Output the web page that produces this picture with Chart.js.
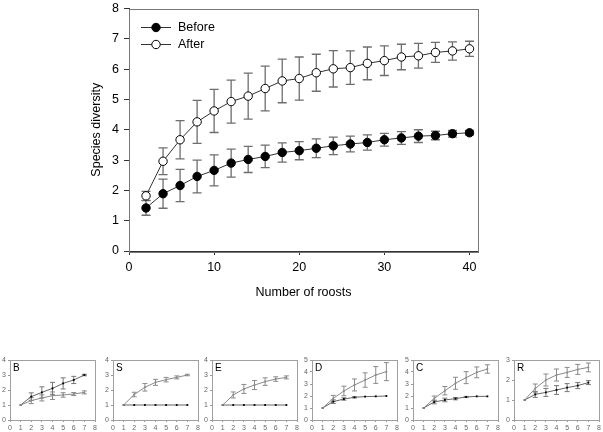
<!DOCTYPE html>
<html>
<head>
<meta charset="utf-8">
<script src="https://cdn.jsdelivr.net/npm/chart.js@4.4.0/dist/chart.umd.min.js"></script>
<style>
  body { margin: 0; background: #fff; width: 603px; height: 432px; overflow: hidden; position: relative; }
  canvas { position: absolute; }
</style>
</head>
<body>
<canvas id="main" width="603" height="314" style="left:0;top:-4px"></canvas>
<script>
// main chart data
const roosts = [2, 4, 6, 8, 10, 12, 14, 16, 18, 20, 22, 24, 26, 28, 30, 32, 34, 36, 38, 40];
const before = [1.42, 1.89, 2.16, 2.46, 2.66, 2.90, 3.02, 3.12, 3.25, 3.31, 3.39, 3.47, 3.53, 3.58, 3.67, 3.73, 3.79, 3.81, 3.87, 3.90];
const beforeErr = [0.24, 0.48, 0.53, 0.54, 0.51, 0.46, 0.43, 0.37, 0.32, 0.30, 0.31, 0.29, 0.26, 0.25, 0.21, 0.21, 0.21, 0.14, 0.11, 0.08];
const after = [1.82, 2.96, 3.67, 4.26, 4.62, 4.93, 5.11, 5.36, 5.61, 5.69, 5.88, 6.01, 6.05, 6.19, 6.28, 6.40, 6.44, 6.55, 6.60, 6.67];
const afterErr = [0.15, 0.44, 0.63, 0.71, 0.71, 0.71, 0.76, 0.74, 0.72, 0.71, 0.61, 0.60, 0.55, 0.54, 0.49, 0.42, 0.41, 0.33, 0.30, 0.25];
const xTicks = [0, 10, 20, 30, 40];

// small panels
const panelNames = ["B", "S", "E", "D", "C", "R"];
const panelYMax = [4, 4, 4, 5, 5, 3];
const panelX = [1, 2, 3, 4, 5, 6, 7];
const panelXTicks = [0, 1, 2, 3, 4, 5, 6, 7, 8];
const bDark = [1, 1.56, 1.84, 2.11, 2.44, 2.67, 3.0];
const bDarkErr = [0, 0.25, 0.37, 0.4, 0.37, 0.24, 0.05];
const bGray = [1, 1.29, 1.47, 1.62, 1.67, 1.73, 1.84];
const bGrayErr = [0, 0.2, 0.2, 0.25, 0.15, 0.1, 0.1];
const sDark = [1, 1, 1, 1, 1, 1, 1];
const sDarkErr = [0, 0, 0, 0, 0, 0, 0];
const sGray = [1, 1.70, 2.18, 2.51, 2.69, 2.84, 3.0];
const sGrayErr = [0, 0.15, 0.25, 0.2, 0.15, 0.1, 0.05];
const eDark = [1, 1, 1, 1, 1, 1, 1];
const eDarkErr = [0, 0, 0, 0, 0, 0, 0];
const eGray = [1, 1.67, 2.07, 2.33, 2.56, 2.73, 2.84];
const eGrayErr = [0, 0.2, 0.3, 0.3, 0.25, 0.15, 0.1];
const dDark = [1, 1.53, 1.75, 1.89, 1.95, 1.97, 2.0];
const dDarkErr = [0, 0.15, 0.1, 0.05, 0, 0, 0];
const dGray = [1, 1.8, 2.42, 2.92, 3.33, 3.75, 4.03];
const dGrayErr = [0, 0.25, 0.4, 0.5, 0.6, 0.7, 0.75];
const cDark = [1, 1.5, 1.67, 1.78, 1.92, 1.97, 1.97];
const cDarkErr = [0, 0.15, 0.15, 0.1, 0.05, 0, 0];
const cGray = [1, 1.8, 2.44, 3.06, 3.53, 3.97, 4.25];
const cGrayErr = [0, 0.2, 0.35, 0.5, 0.5, 0.45, 0.35];
const rDark = [1, 1.28, 1.38, 1.5, 1.62, 1.72, 1.87];
const rDarkErr = [0, 0.15, 0.2, 0.22, 0.2, 0.15, 0.1];
const rGray = [1, 1.58, 2.0, 2.25, 2.38, 2.53, 2.63];
const rGrayErr = [0, 0.22, 0.3, 0.3, 0.25, 0.25, 0.22];

const panelDark = [bDark, sDark, eDark, dDark, cDark, rDark];
const panelDarkErr = [bDarkErr, sDarkErr, eDarkErr, dDarkErr, cDarkErr, rDarkErr];
const panelGray = [bGray, sGray, eGray, dGray, cGray, rGray];
const panelGrayErr = [bGrayErr, sGrayErr, eGrayErr, dGrayErr, cGrayErr, rGrayErr];
const panelLefts = [10, 113, 212, 312, 413, 514];

const FONT = "'Liberation Sans', Arial, sans-serif";

const toPoints = (xs, ys) => xs.map((x, i) => ({ x, y: ys[i] }));

// draws the error bars before lines and markers, so markers sit on top
const errorBars = {
    id: "errorBars",
    beforeDatasetsDraw(chart) {
        const ctx = chart.ctx;
        const xs = chart.scales.x, ys = chart.scales.y;
        chart.data.datasets.forEach((ds) => {
            if (!ds.errors) return;
            ctx.save();
            ctx.strokeStyle = ds.errorColor;
            ctx.lineWidth = ds.errorWidth;
            ds.data.forEach((p, j) => {
                const e = ds.errors[j];
                if (!e) return;
                const px = xs.getPixelForValue(p.x);
                const y1 = ys.getPixelForValue(p.y - e);
                const y2 = ys.getPixelForValue(p.y + e);
                const c = ds.capHalf;
                ctx.beginPath();
                ctx.moveTo(px, y1); ctx.lineTo(px, y2);
                ctx.moveTo(px - c, y1); ctx.lineTo(px + c, y1);
                ctx.moveTo(px - c, y2); ctx.lineTo(px + c, y2);
                ctx.stroke();
            });
            ctx.restore();
        });
    }
};

const frame = {
    id: "frame",
    beforeDatasetsDraw(chart, args, opts) {
        const { left, top, right, bottom } = chart.chartArea;
        const ctx = chart.ctx;
        ctx.save();
        ctx.strokeStyle = opts.color;
        ctx.lineWidth = 1;
        ctx.strokeRect(Math.round(left) + 0.5, Math.round(top) + 0.5, Math.round(right - left), Math.round(bottom - top));
        ctx.restore();
        if (opts.label) {
            ctx.save();
            ctx.fillStyle = "#000";
            ctx.font = "10px " + FONT;
            ctx.textBaseline = "top";
            ctx.fillText(opts.label, left + 3, top + 3);
            ctx.restore();
        }
    }
};

const mainLegend = {
    id: "mainLegend",
    afterDraw(chart) {
        const ctx = chart.ctx;
        const { left, top } = chart.chartArea;
        const rowOffsets = [18, 35];
        chart.data.datasets.forEach((ds, i) => {
            const y = Math.round(top + rowOffsets[i]);
            const x0 = left + 12;
            ctx.save();
            ctx.strokeStyle = ds.borderColor;
            ctx.lineWidth = 1;
            ctx.beginPath();
            ctx.moveTo(x0, y + 0.5); ctx.lineTo(x0 + 30, y + 0.5);
            ctx.stroke();
            ctx.beginPath();
            ctx.arc(x0 + 15, y + 0.5, ds.pointRadius, 0, Math.PI * 2);
            ctx.fillStyle = ds.pointBackgroundColor;
            ctx.fill();
            ctx.strokeStyle = ds.pointBorderColor;
            ctx.stroke();
            ctx.fillStyle = "#000";
            ctx.font = "12.5px " + FONT;
            ctx.textBaseline = "middle";
            ctx.fillText(ds.label, x0 + 37, y + 1);
            ctx.restore();
        });
    }
};

const tickFont = { family: FONT, size: 12.5 };

new Chart(document.getElementById("main"), {
    type: "line",
    data: {
        datasets: [
            {
                label: "Before",
                data: toPoints(roosts, before),
                errors: beforeErr,
                errorColor: "#6e6e6e", errorWidth: 1.3, capHalf: 4.5,
                borderColor: "#333", borderWidth: 1,
                pointRadius: 4.2, pointBackgroundColor: "#000", pointBorderColor: "#000", pointBorderWidth: 1
            },
            {
                label: "After",
                data: toPoints(roosts, after),
                errors: afterErr,
                errorColor: "#6e6e6e", errorWidth: 1.3, capHalf: 4.5,
                borderColor: "#333", borderWidth: 1,
                pointRadius: 4.2, pointBackgroundColor: "#fff", pointBorderColor: "#000", pointBorderWidth: 1
            }
        ]
    },
    options: {
        responsive: false,
        animation: false,
        devicePixelRatio: 1,
        layout: { padding: { left: 80, right: 125, top: 7, bottom: 0 } },
        plugins: { legend: { display: false }, tooltip: { enabled: false }, frame: { color: "#777" } },
        scales: {
            x: {
                type: "linear", min: 0, max: 41,
                afterBuildTicks: (s) => { s.ticks = xTicks.map((v) => ({ value: v })); },
                afterFit: (s) => { s.height = 59; },
                grid: { drawOnChartArea: false, tickLength: 4, color: "#333" },
                border: { color: "#333" },
                ticks: { font: tickFont, color: "#000", padding: 5, maxRotation: 0 },
                title: { display: true, text: "Number of roosts", font: tickFont, color: "#000", padding: { bottom: 10 } }
            },
            y: {
                min: 0, max: 8,
                afterFit: (s) => { s.width = 49; },
                grid: { drawOnChartArea: false, tickLength: 5, color: "#333" },
                border: { color: "#333" },
                ticks: { stepSize: 1, font: tickFont, color: "#000", padding: 5 },
                title: { display: true, text: "Species diversity", font: tickFont, color: "#000", padding: { top: 9 } }
            }
        }
    },
    plugins: [frame, errorBars, mainLegend]
});

// the six small panels
const smallFont = { family: FONT, size: 7 };
panelNames.forEach((name, i) => {
    const cv = document.createElement("canvas");
    cv.width = 100;
    cv.height = 80;
    cv.style.left = (panelLefts[i] - 10) + "px";
    cv.style.top = "352px";
    document.body.appendChild(cv);

    new Chart(cv, {
        type: "line",
        data: {
            datasets: [
                {
                    data: toPoints(panelX, panelGray[i]),
                    errors: panelGrayErr[i],
                    errorColor: "#8a8a8a", errorWidth: 1, capHalf: 2.5,
                    borderColor: "#8a8a8a", borderWidth: 1,
                    pointRadius: 1, pointBackgroundColor: "#8a8a8a", pointBorderWidth: 0
                },
                {
                    data: toPoints(panelX, panelDark[i]),
                    errors: panelDarkErr[i],
                    errorColor: "#777", errorWidth: 1, capHalf: 2.5,
                    borderColor: "#666", borderWidth: 1,
                    pointRadius: 1.3, pointStyle: "rect", pointBackgroundColor: "#000", pointBorderWidth: 0
                }
            ]
        },
        options: {
            responsive: false,
            animation: false,
            devicePixelRatio: 1,
            layout: { padding: { left: 0, right: 5, top: 8, bottom: 0 } },
            plugins: { legend: { display: false }, tooltip: { enabled: false }, frame: { color: "#a0a0a0", label: name } },
            scales: {
                x: {
                    type: "linear", min: 0, max: 8,
                    afterBuildTicks: (s) => { s.ticks = panelXTicks.map((v) => ({ value: v })); },
                    afterFit: (s) => { s.height = 12; },
                    grid: { drawOnChartArea: false, tickLength: 2, color: "#999" },
                    border: { color: "#999" },
                    ticks: { font: smallFont, color: "#666", padding: 2, maxRotation: 0, autoSkip: false }
                },
                y: {
                    min: 0, max: panelYMax[i],
                    afterFit: (s) => { s.width = 10; },
                    grid: { drawOnChartArea: false, tickLength: 2, color: "#999" },
                    border: { color: "#999" },
                    ticks: { stepSize: 1, font: smallFont, color: "#666", padding: 2 }
                }
            }
        },
        plugins: [frame, errorBars]
    });
});
</script>
</body>
</html>
